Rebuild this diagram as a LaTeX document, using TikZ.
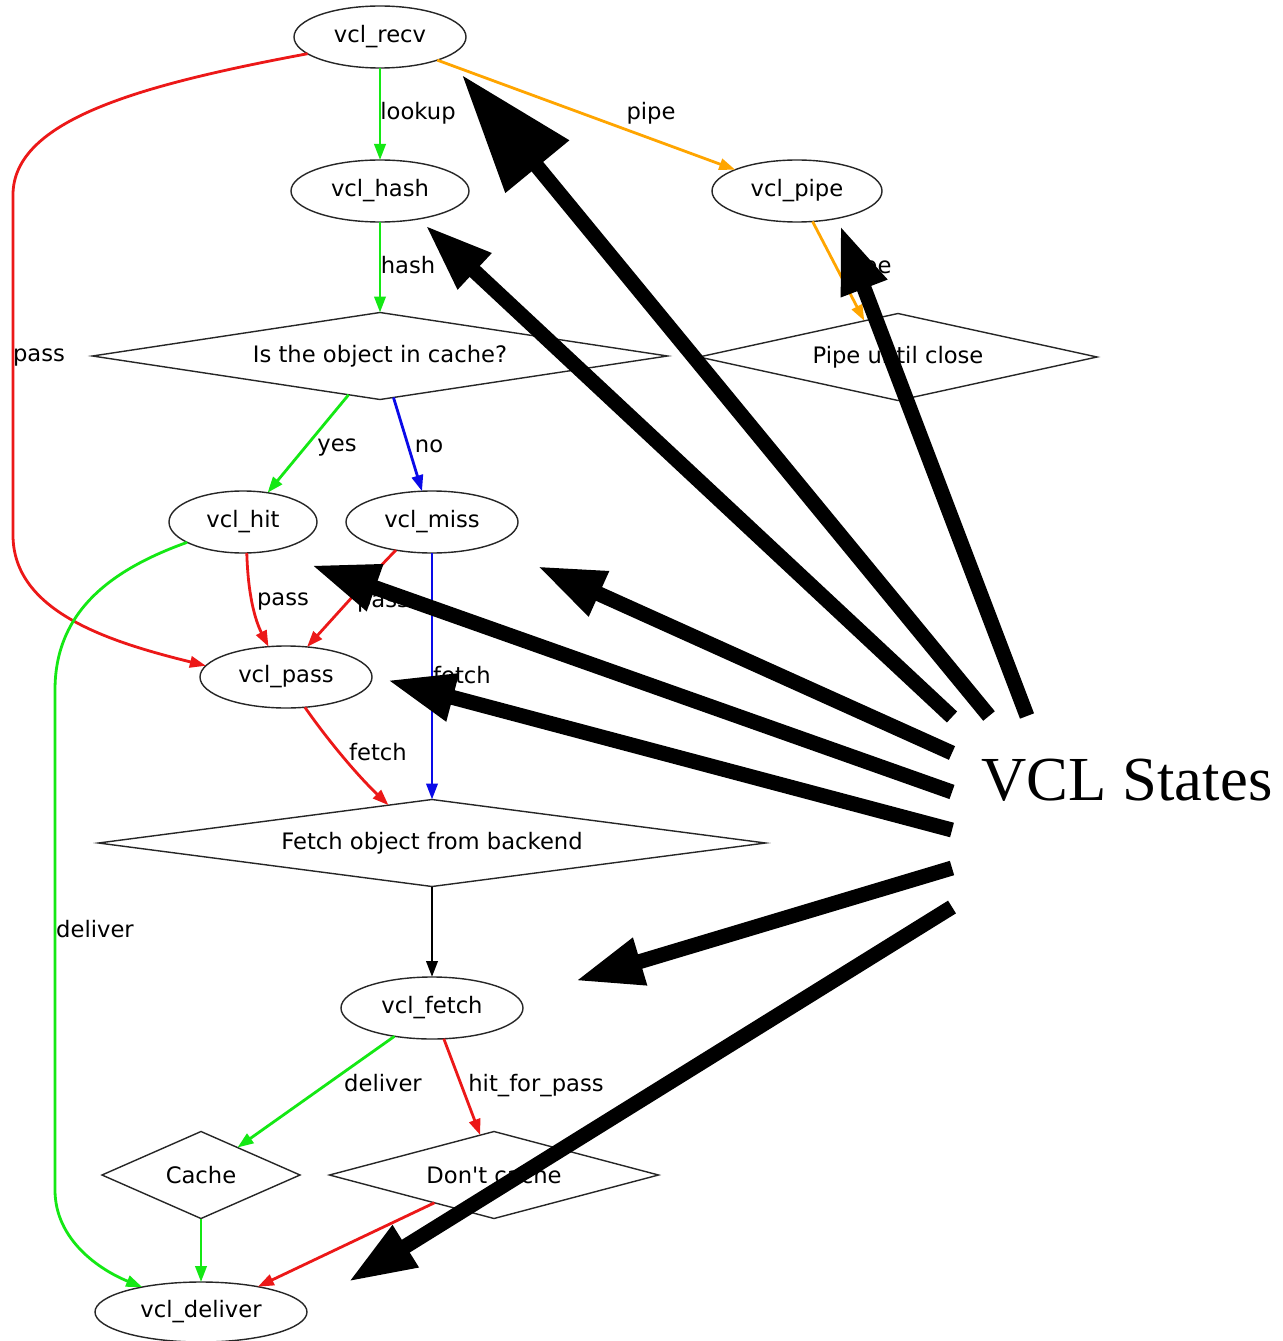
\documentclass[tikz,border=0pt]{standalone}
\usepackage{fontspec}
\newfontfamily\graphfont{DejaVu Sans}
\newfontfamily\vclserif{Liberation Serif}
\usetikzlibrary{shapes.geometric,arrows.meta}
\definecolor{egreen}{RGB}{20,232,20}
\definecolor{ered}{RGB}{236,24,24}
\definecolor{eorange}{RGB}{255,165,0}
\definecolor{eblue}{RGB}{10,10,232}
\begin{document}
\begin{tikzpicture}[x=0.75pt,y=-0.75pt,
  every node/.style={font=\graphfont\fontsize{17}{20}\selectfont},
  state/.style 2 args={ellipse, draw=black!85, line width=1.05pt, inner sep=0pt, outer sep=0pt,
    minimum width=#1*0.75pt, minimum height=#2*0.75pt},
  decision/.style n args={3}{diamond, draw=black!85, line width=1.05pt, inner sep=0pt, outer sep=0pt,
    shape aspect=#3, minimum width=#1*0.75pt, minimum height=#2*0.75pt},
  conn/.style={line width=2.1pt, -{Triangle[length=12pt,width=8.5pt]}},
  elabel/.style={inner sep=0pt, anchor=base},
  bigarrow/.style={line width=11.25pt, -{Triangle[length=51pt,width=34pt]}},
  hugearrow/.style={line width=11.25pt, -{Triangle[length=89pt,width=59pt]}},
]
\useasboundingbox[fill=white] (0,0) rectangle (1282,1341);

% states and decisions
\node[state={172}{62}] (recv) at (380,37) {vcl\_recv};
\node[state={178}{62}] (hash) at (380,191) {vcl\_hash};
\node[state={170}{62}] (pipe) at (797,191) {vcl\_pipe};
\node[decision={575}{87}{6.6}] (incache) at (380,356) {Is the object in cache?};
\node[decision={398}{87}{4.57}] (pipeclose) at (898,357) {Pipe until close};
\node[state={148}{62}] (hit) at (243,522) {vcl\_hit};
\node[state={172}{62}] (miss) at (432,522) {vcl\_miss};
\node[state={172}{62}] (pass) at (286,677) {vcl\_pass};
\node[decision={667}{87}{7.67}] (fetchobj) at (432,843) {Fetch object from backend};
\node[state={182}{62}] (vfetch) at (432,1008) {vcl\_fetch};
\node[decision={198}{87}{2.28}] (cache) at (201,1175) {Cache};
\node[decision={329}{87}{3.78}] (dontcache) at (494,1175) {Don't cache};
\node[state={212}{60}] (deliver) at (201,1312) {vcl\_deliver};

% connectors
\draw[conn, egreen] (recv.south) -- (hash.north);
\node[elabel] (llookup) at (418,120) {lookup};
\draw[conn, eorange] (recv.-22) -- (pipe.161);
\node[elabel] (lpipe1) at (651,120) {pipe};
\draw[conn, ered] (recv.193) .. controls (140,85) and (13,120) .. (13,195)
  -- (13,535) .. controls (13,612) and (110,642) .. (pass.172);
\node[elabel] (lpass1) at (39,361) {pass};
\draw[conn, egreen] (hash.south) -- (incache.north);
\node[elabel] (lhash) at (408,273) {hash};
\draw[conn, eorange] (pipe.-63) -- (pipeclose.133);
\node[elabel] (lpipe2) at (867,273) {pipe};
\draw[conn, egreen] (incache.231) -- (hit.50);
\node[elabel] (lyes) at (337,451) {yes};
\draw[conn, eblue] (incache.288) -- (miss.108);
\node[elabel] (lno) at (429,452) {no};
\draw[conn, ered] (hit.277) .. controls (248,595) and (255,620) .. (pass.120);
\node[elabel] (lpass2) at (283,605) {pass};
\draw[conn, ered] (miss.218) .. controls (380,566) and (345,605) .. (pass.55);
\node[elabel] (lpass3) at (383,607) {pass};
\draw[conn, eblue] (miss.south) -- (fetchobj.north);
\node[elabel] (lfetch1) at (462,683) {fetch};
\draw[conn, egreen] (hit.200) .. controls (110,570) and (55,612) .. (55,690)
  -- (55,1190) .. controls (55,1240) and (100,1270) .. (deliver.157);
\node[elabel] (ldeliver1) at (95,937) {deliver};
\draw[conn, ered] (pass.-58) .. controls (322,732) and (352,770) .. (fetchobj.139);
\node[elabel] (lfetch2) at (378,760) {fetch};
\draw[conn, black] (fetchobj.south) -- (vfetch.north);
\draw[conn, egreen] (vfetch.217) -- (cache.37);
\node[elabel] (ldeliver2) at (383,1091) {deliver};
\draw[conn, ered] (vfetch.-69) -- (dontcache.109);
\node[elabel] (lhfp) at (536,1091) {hit\_for\_pass};
\draw[conn, egreen] (cache.south) -- (deliver.north);
\draw[conn, ered] (dontcache.205) -- (deliver.24);

% VCL States annotation
\node[anchor=base, inner sep=0pt, font=\vclserif\fontsize{47}{56}\selectfont] (vcl) at (1127,800) {VCL States};
\coordinate (sHash) at (952,717);   \coordinate (tHash) at (425,225);
\coordinate (sRecv) at (989,716);   \coordinate (tRecv) at (462,75);
\coordinate (sPipe) at (1027,716);  \coordinate (tPipe) at (840,225);
\coordinate (sMiss) at (952,753);   \coordinate (tMiss) at (537,566);
\coordinate (sHit) at (952,792);    \coordinate (tHit) at (311,565);
\coordinate (sPass) at (952,830);   \coordinate (tPass) at (387,680);
\coordinate (sFetch) at (952,868);  \coordinate (tFetch) at (575,981);
\coordinate (sDeliver) at (952,907);\coordinate (tDeliver) at (348,1282);
\draw[bigarrow] (sHash) -- (tHash);
\draw[hugearrow] (sRecv) -- (tRecv);
\draw[bigarrow] (sPipe) -- (tPipe);
\draw[bigarrow] (sMiss) -- (tMiss);
\draw[bigarrow] (sHit) -- (tHit);
\draw[bigarrow] (sPass) -- (tPass);
\draw[bigarrow] (sFetch) -- (tFetch);
\draw[bigarrow] (sDeliver) -- (tDeliver);
\end{tikzpicture}
\end{document}
